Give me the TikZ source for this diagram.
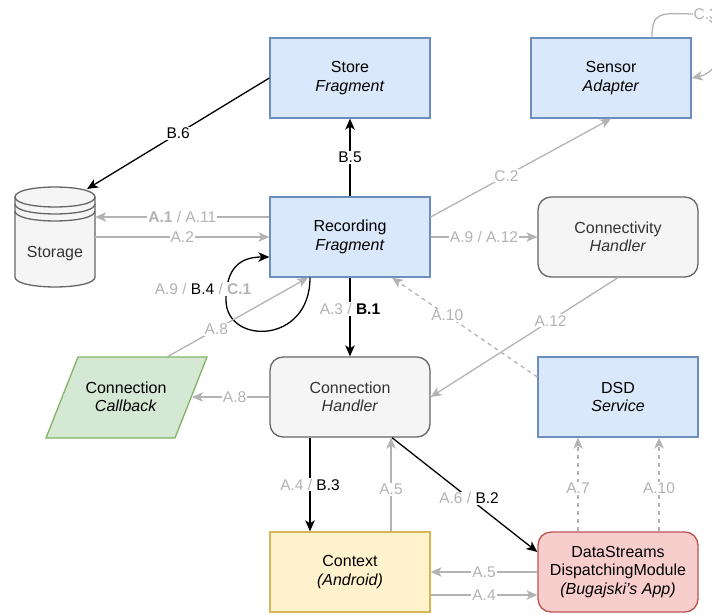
\documentclass[tikz,border=0pt]{standalone}
\usepackage{fontspec}
\setmainfont{Liberation Sans}
\usetikzlibrary{arrows.meta}
\definecolor{bluefill}{HTML}{DAE8FC}
\definecolor{bluedraw}{HTML}{6C8EBF}
\definecolor{greyfill}{HTML}{F5F5F5}
\definecolor{greydraw}{HTML}{666666}
\definecolor{greytext}{HTML}{333333}
\definecolor{greenfill}{HTML}{D5E8D4}
\definecolor{greendraw}{HTML}{82B366}
\definecolor{yellowfill}{HTML}{FFF2CC}
\definecolor{yellowdraw}{HTML}{D6B656}
\definecolor{redfill}{HTML}{F8CECC}
\definecolor{reddraw}{HTML}{B85450}
\definecolor{edgegrey}{HTML}{B3B3B3}
\newcommand{\lite}[1]{\textcolor{edgegrey}{#1}}
\tikzset{
  /tikz/.cd,
  component/.style={draw=bluedraw,fill=bluefill,line width=1.3pt,minimum width=160pt,minimum height=80pt,
                    align=center,font=\fontsize{16}{18.5}\selectfont},
  handler/.style={component,draw=greydraw,fill=greyfill,text=greytext,rounded corners=13pt},
  flow/.style={->,line width=1.3pt},
  weak/.style={flow,draw=edgegrey},
  hint/.style={weak,dash pattern=on 4pt off 4pt},
  tag/.style={fill=white,inner sep=1pt,text=edgegrey,font=\fontsize{15.5}{18}\selectfont}
}

\begin{document}
\begin{tikzpicture}[x=1pt,y=-1pt,>={Stealth[length=11pt,width=9.5pt,inset=3pt]},
                    shapebox/.style={line width=1.3pt,align=center,font=\fontsize{16}{18.5}\selectfont}]
  \useasboundingbox (0,0) rectangle (712,615);

  % blocks
  \node[component] (store) at (350,78) {Store\\\textit{Fragment}};
  \node[component] (sensor) at (611,78) {Sensor\\\textit{Adapter}};
  \node[component] (recording) at (350,237) {Recording\\\textit{Fragment}};
  \node[handler] (connectivity) at (618,237) {Connectivity\\\textit{Handler}};
  \node[handler] (connhandler) at (350,397) {Connection\\\textit{Handler}};
  \node[component] (dsd) at (618,397) {DSD\\\textit{Service}};
  \node[component,draw=yellowdraw,fill=yellowfill] (context) at (350,572) {Context\\\textit{(Android)}};
  \node[handler,draw=reddraw,fill=redfill,text=black] (dispatch) at (618,572)
    {DataStreams\\DispatchingModule\\\textit{(Bugajski's App)}};

  % storage cylinder
  \draw[shapebox,draw=greydraw,fill=greyfill] (15,197) -- (15,277)
    .. controls (15,290.3) and (95,290.3) .. (95,277) -- (95,197)
    .. controls (95,183.7) and (15,183.7) .. (15,197) -- cycle;
  \draw[shapebox,draw=greydraw] (15,197) .. controls (15,210.3) and (95,210.3) .. (95,197);
  \draw[shapebox,draw=greydraw] (15,204) .. controls (15,217.3) and (95,217.3) .. (95,204);
  \draw[shapebox,draw=greydraw] (15,211) .. controls (15,224.3) and (95,224.3) .. (95,211);
  \node[inner sep=0pt,minimum width=80pt,minimum height=100pt] (storage) at (55,237) {};
  \node[shapebox,text=greytext] (storagetext) at (55,254) {Storage};
  \coordinate (storagetop) at (87,189);

  % callback parallelogram
  \draw[shapebox,draw=greendraw,fill=greenfill] (78,357) -- (207,357) -- (175,438) -- (46,438) -- cycle;
  \node[shapebox] (callback) at (126,397) {Connection\\\textit{Callback}};
  \coordinate (cbtop) at (167,357);
  \coordinate (cbright) at (192,397);

  % connectors
  \draw[flow] (store.west) -- node[tag,text=black]{B.6} (storagetop);
  \draw[flow] (recording.north) -- node[tag,text=black]{B.5} (store.south);
  \draw[weak] ([yshift=20pt]recording.west) -- node[tag]{\textbf{A.1} / A.11} ([yshift=20pt]storage.east);
  \draw[weak] (storage.east) -- node[tag]{A.2} (recording.west);
  \draw[weak] ([yshift=20pt]recording.east) -- node[tag,pos=0.42]{C.2} (sensor.south);
  \draw[weak] ([xshift=41pt]sensor.north) .. controls (652,12) and (660,13) .. (692,14)
    node[tag,anchor=west]{C.3} .. controls (728,14) and (730,70) .. (sensor.east);
  \draw[weak] (recording.east) -- node[tag]{A.9 / A.12} (connectivity.west);
  \draw[flow] ([xshift=-40pt]recording.south) .. controls (310,345) and (226,345) .. (226,300)
    .. controls (226,268) and (240,257) .. ([yshift=-20pt]recording.west);
  \node[tag] (looplabel) at (203,289) {A.9 / \textcolor{black}{B.4} / \textbf{C.1}};
  \draw[weak] (cbtop) -- node[tag,pos=0.35]{A.8} ([xshift=-42pt]recording.south);
  \draw[flow] (recording.south) -- node[tag,pos=0.4]{\lite{A.3 /} \textcolor{black}{\textbf{B.1}}} (connhandler.north);
  \draw[hint] ([yshift=20pt]dsd.west) -- node[tag,pos=0.62]{A.10} ([xshift=42pt]recording.south);
  \draw[weak] (connectivity.south) -- node[tag,pos=0.36]{A.12} (connhandler.east);
  \draw[weak] (connhandler.west) -- node[tag,pos=0.45]{A.8} (cbright);
  \draw[flow] ([xshift=-40pt]connhandler.south) -- node[tag,text=black]{\lite{A.4 /} B.3} ([xshift=-40pt]context.north);
  \draw[weak] ([xshift=41pt]context.north) -- node[tag,pos=0.45]{A.5} ([xshift=41pt]connhandler.south);
  \draw[flow] ([xshift=42pt]connhandler.south) -- node[tag,text=black,pos=0.53]{\lite{A.6 /} B.2} ([yshift=20pt]dispatch.west);
  \draw[hint] ([xshift=-40pt]dispatch.north) -- node[tag,pos=0.46]{A.7} ([xshift=-40pt]dsd.south);
  \draw[hint] ([xshift=41pt]dispatch.north) -- node[tag,pos=0.46]{A.10} ([xshift=41pt]dsd.south);
  \draw[weak] (dispatch.west) -- node[tag]{A.5} (context.east);
  \draw[weak] ([yshift=-23pt]context.east) -- node[tag]{A.4} ([yshift=-23pt]dispatch.west);
\end{tikzpicture}
\end{document}
